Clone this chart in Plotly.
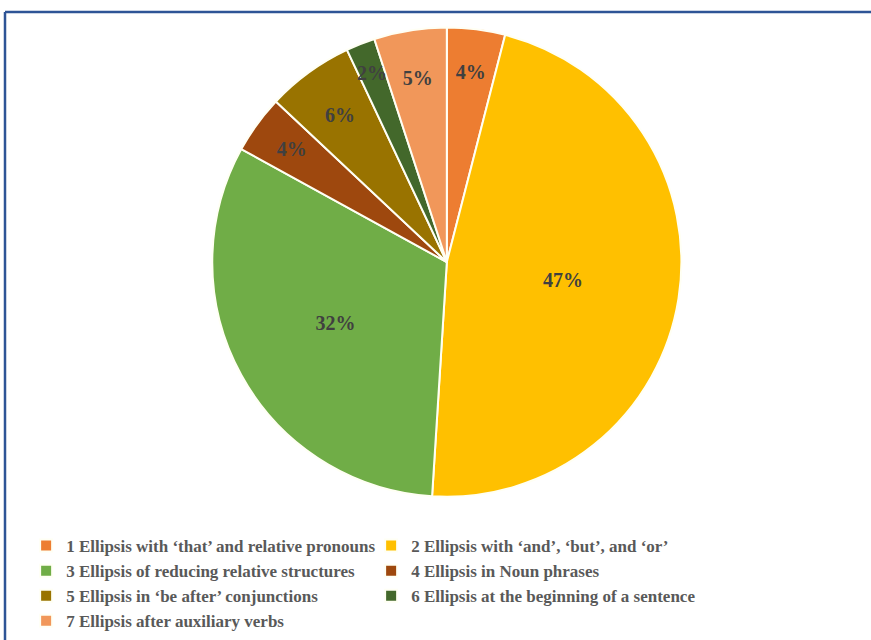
import plotly.graph_objects as go

labels = [
    "1 Ellipsis with \u2018that\u2019 and relative pronouns",
    "2 Ellipsis with \u2018and\u2019, \u2018but\u2019, and \u2018or\u2019",
    "3 Ellipsis of reducing relative structures",
    "4 Ellipsis in Noun phrases",
    "5 Ellipsis in \u2018be after\u2019 conjunctions",
    "6 Ellipsis at the beginning of a sentence",
    "7 Ellipsis after auxiliary verbs",
]
values = [4, 47, 32, 4, 6, 2, 5]
colors = ["#ED7D31", "#FFC000", "#70AD47", "#9E480E", "#997300", "#43682B", "#F1975A"]

SERIF = "Liberation Serif, Times New Roman, serif"
LBL = "<b>%{percent:.0%}</b>"

big = [v >= 10 for v in values]
text_big = [LBL if b else "" for b in big]
text_small = ["" if b else LBL for b in big]

cx, cy, rx, ry = 0.513, 0.5905, 0.271, 0.3665
k = 0.92

fig = go.Figure()
fig.add_trace(
    go.Pie(
        labels=labels,
        values=values,
        sort=False,
        direction="clockwise",
        rotation=0,
        marker=dict(colors=colors, line=dict(color="#FFFFF4", width=2)),
        texttemplate=text_big,
        textposition="inside",
        insidetextorientation="horizontal",
        textfont=dict(family=SERIF, size=20, color="#404040"),
        domain=dict(x=[cx - rx, cx + rx], y=[cy - ry, cy + ry]),
        hoverinfo="label+percent",
    )
)
fig.add_trace(
    go.Pie(
        labels=labels,
        values=values,
        sort=False,
        direction="clockwise",
        rotation=0,
        marker=dict(colors=["rgba(0,0,0,0)"] * len(values), line=dict(width=0)),
        texttemplate=text_small,
        textposition="inside",
        insidetextorientation="horizontal",
        textfont=dict(family=SERIF, size=20, color="#404040"),
        domain=dict(x=[cx - rx * k, cx + rx * k], y=[cy - ry * k, cy + ry * k]),
        hoverinfo="skip",
        showlegend=False,
    )
)

fig.update_layout(
    width=871,
    height=640,
    margin=dict(l=0, r=0, t=0, b=0),
    paper_bgcolor="white",
    plot_bgcolor="white",
    uniformtext=dict(minsize=20, mode="show"),
    showlegend=True,
    legend=dict(
        orientation="h",
        x=0.03,
        xanchor="left",
        y=0.175,
        yanchor="top",
        entrywidth=300,
        entrywidthmode="pixels",
        font=dict(family=SERIF, size=17, color="#595959", weight="bold"),
        traceorder="normal",
    ),
    shapes=[
        dict(type="line", xref="paper", yref="paper", x0=5 / 871, x1=1.01,
             y0=1 - 12 / 640, y1=1 - 12 / 640, line=dict(color="#2E5496", width=2.5)),
        dict(type="line", xref="paper", yref="paper", x0=5 / 871, x1=5 / 871,
             y0=-0.01, y1=1 - 12 / 640, line=dict(color="#2E5496", width=2.5)),
    ],
)

fig.write_html("out.html")
